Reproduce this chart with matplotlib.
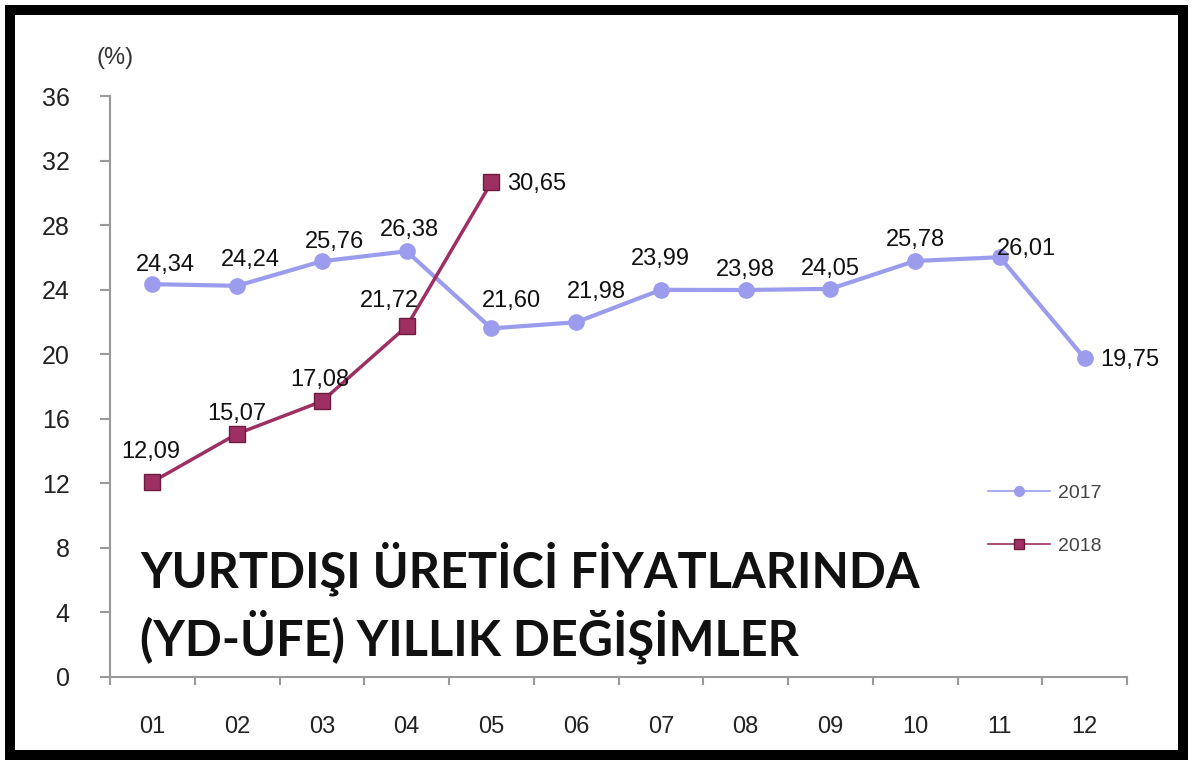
import numpy as np
import matplotlib.pyplot as plt
from matplotlib.patches import Rectangle

months = ['01', '02', '03', '04', '05', '06', '07', '08', '09', '10', '11', '12']
v2017 = [24.34, 24.24, 25.76, 26.38, 21.60, 21.98, 23.99, 23.98, 24.05, 25.78, 26.01, 19.75]
v2018 = [12.09, 15.07, 17.08, 21.72, 30.65]
yticks = list(range(0, 37, 4))

# label offsets in pixels (dx, dy)
off2017 = [(13, 19), (13, 26), (13, 19), (3, 21), (20, 27), (20, 30),
           (0, 31), (0, 20), (0, 20), (0, 21), (27, 8), (45, -2)]
off2018 = [(-2, 30), (0, 20), (-2, 21), (-17, 25), (45, -2)]

c17 = '#9C9CEE'
c18 = '#9E2F62'

fig = plt.figure(figsize=(12, 7.7), dpi=100)
ax = fig.add_axes([110/1200, 1-677/770, 1017/1200, 581/770])

x = np.arange(len(months))
ax.plot(x, v2017, color=c17, lw=3, marker='o', ms=11, mec=c17, mfc=c17, label='2017', zorder=3)
ax.plot(x[:len(v2018)], v2018, color=c18, lw=2.5, marker='s', ms=11, mec='#6E1B40', mfc=c18, label='2018', zorder=4)

px = 72 / 100
for i, v in enumerate(v2017):
    ax.annotate(f'{v:.2f}'.replace('.', ','), (x[i], v), xytext=(off2017[i][0]*px, off2017[i][1]*px),
                textcoords='offset points', ha='center', va='center', fontsize=17,
                family='Liberation Sans', color='#111111', zorder=5)
for i, v in enumerate(v2018):
    ax.annotate(f'{v:.2f}'.replace('.', ','), (x[i], v), xytext=(off2018[i][0]*px, off2018[i][1]*px),
                textcoords='offset points', ha='center', va='center', fontsize=17,
                family='Liberation Sans', color='#111111', zorder=5)

ax.set_xlim(-0.5, 11.5)
ax.set_ylim(0, 36)
ax.set_yticks(yticks)
ax.set_xticks(x)
ax.set_xticklabels(months)
ax.set_xticks(np.arange(-0.5, 12, 1), minor=True)
ax.tick_params(axis='x', which='major', length=0, pad=28, labelsize=17, labelcolor='#222222')
ax.tick_params(axis='x', which='minor', length=6, color='#999999', width=1.5)
ax.tick_params(axis='y', length=7, color='#999999', width=1.5, pad=22, labelsize=18, labelcolor='#222222')
for lab in ax.get_xticklabels() + ax.get_yticklabels():
    lab.set_family('Liberation Sans')
ax.spines['top'].set_visible(False)
ax.spines['right'].set_visible(False)
ax.spines['left'].set_color('#999999')
ax.spines['bottom'].set_color('#999999')
ax.spines['left'].set_linewidth(1.5)
ax.spines['bottom'].set_linewidth(1.5)

fig.text(115/1200, 1-58/770, '(%)', ha='center', va='center', fontsize=17,
         family='Liberation Sans', color='#333333')

leg = ax.legend(loc='upper left', bbox_to_anchor=((988-110)/1017, (677-484)/581),
                frameon=False, handlelength=3.2, handletextpad=0.4, labelspacing=1.85,
                borderaxespad=0, borderpad=0,
                prop={'family': 'Liberation Sans', 'size': 14})
for t in leg.get_texts():
    t.set_color('#444444')
for h in leg.legend_handles:
    h.set_markersize(7)
    h.set_linewidth(1.2)

fig.text(140/1200, 1-587/770, 'YURTDIŞI ÜRETİCİ FİYATLARINDA', ha='left', va='baseline',
         fontsize=35, fontweight='bold', family='Lato', color='#111111')
fig.text(140/1200, 1-655/770, '(YD-ÜFE) YILLIK DEĞİŞİMLER', ha='left', va='baseline',
         fontsize=35, fontweight='bold', family='Lato', color='#111111')

fig.patches.append(Rectangle((10/1200, 1-755/770), 1173/1200, 745/770, transform=fig.transFigure,
                             fill=False, ec='black', lw=7.2, zorder=10))

fig.savefig('out.png', dpi=100)
